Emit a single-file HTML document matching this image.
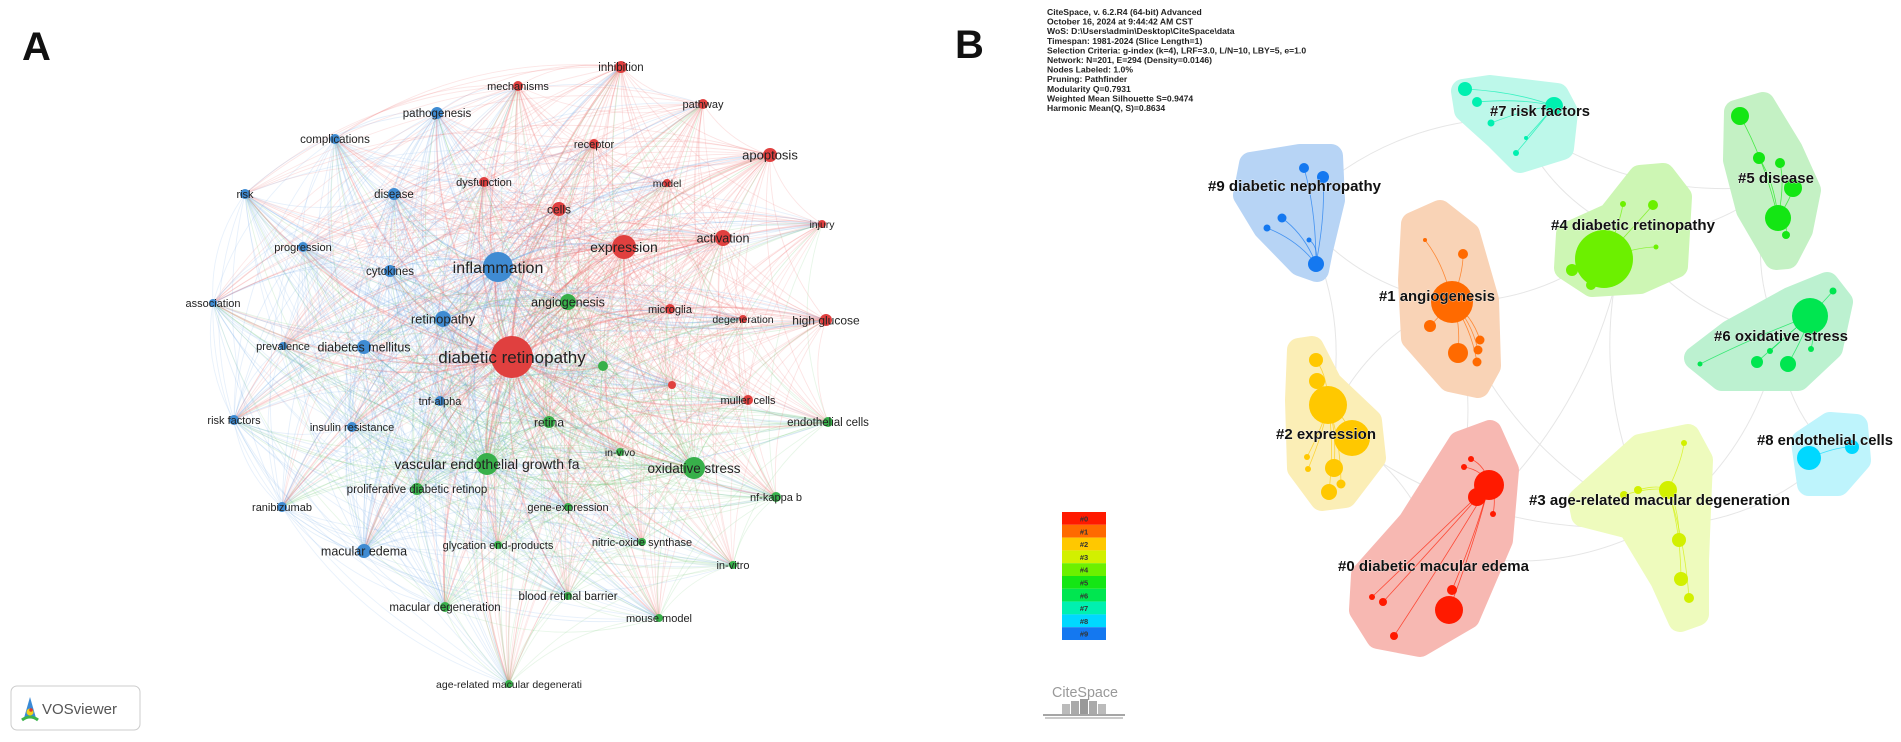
<!DOCTYPE html>
<html><head><meta charset="utf-8"><style>
html,body{margin:0;padding:0;background:#fff;}
svg{display:block;font-family:"Liberation Sans",sans-serif;}
</style></head><body>
<svg id="fig" width="1901" height="742" viewBox="0 0 1901 742" xmlns="http://www.w3.org/2000/svg">
<rect width="1901" height="742" fill="#fff"/>
<g id="panelA">
  <text x="22" y="60" font-size="40" font-weight="bold" fill="#111">A</text>
  <g id="edgesA"></g>
  <g id="nodesA"></g>
  <g id="labelsA"></g>
  <g>
    <rect x="11" y="686" width="129" height="44" rx="6" fill="#fff" stroke="#ccc" stroke-width="1"/>
    <path d="M24 718 L30 697 L36 718 Z" fill="#3a8ad6"/>
    <circle cx="30" cy="712" r="3.5" fill="#f2d21b"/><circle cx="31" cy="710" r="1.8" fill="#e23a2a"/>
    <path d="M22 720 Q30 714 38 720" fill="none" stroke="#3cb44b" stroke-width="3"/>
    <text x="42" y="714" font-size="15" fill="#555">VOSviewer</text>
  </g>
</g>
<g id="panelB">
  <text x="955" y="58" font-size="40" font-weight="bold" fill="#111">B</text>
  <g font-size="8.6" font-weight="bold" fill="#222">
    <text x="1047" y="15">CiteSpace, v. 6.2.R4 (64-bit) Advanced</text>
    <text x="1047" y="24.6">October 16, 2024 at 9:44:42 AM CST</text>
    <text x="1047" y="34.2">WoS: D:\Users\admin\Desktop\CiteSpace\data</text>
    <text x="1047" y="43.8">Timespan: 1981-2024 (Slice Length=1)</text>
    <text x="1047" y="53.4">Selection Criteria: g-index (k=4), LRF=3.0, L/N=10, LBY=5, e=1.0</text>
    <text x="1047" y="63">Network: N=201, E=294 (Density=0.0146)</text>
    <text x="1047" y="72.6">Nodes Labeled: 1.0%</text>
    <text x="1047" y="82.2">Pruning: Pathfinder</text>
    <text x="1047" y="91.8">Modularity Q=0.7931</text>
    <text x="1047" y="101.4">Weighted Mean Silhouette S=0.9474</text>
    <text x="1047" y="111">Harmonic Mean(Q, S)=0.8634</text>
  </g>
  <g id="bgEdgesB"></g>
  <g id="hullsB"></g>
  <g id="nodesB"></g>
  <g id="labelsB"></g>
  <g id="legendB"></g>
  <g>
    <text x="1052" y="697" font-size="15" fill="#999" textLength="66" lengthAdjust="spacingAndGlyphs">CiteSpace</text>
    <rect x="1062" y="704" width="8" height="10" fill="#bbb"/><rect x="1071" y="701" width="8" height="13" fill="#aaa"/>
    <rect x="1080" y="699" width="8" height="15" fill="#999"/><rect x="1089" y="701" width="8" height="13" fill="#aaa"/>
    <rect x="1098" y="704" width="8" height="10" fill="#bbb"/>
    <path d="M1043 715 L1125 715" stroke="#888" stroke-width="1.5" fill="none"/>
    <path d="M1045 718 L1123 718" stroke="#aaa" stroke-width="1.2" fill="none"/>
  </g>
</g>
</svg>
<script>
// ---------- Panel A data ----------
const aLabels = ["inhibition","mechanisms","pathway","pathogenesis","complications","receptor","apoptosis","dysfunction","model","risk","disease","cells","injury","activation","expression","progression","inflammation","cytokines","association","angiogenesis","microglia","degeneration","high glucose","retinopathy","prevalence","diabetes mellitus","diabetic retinopathy","","","tnf-alpha","muller cells","risk factors","insulin resistance","retina","endothelial cells","in-vivo","vascular endothelial growth fa","oxidative stress","proliferative diabetic retinop","nf-kappa b","ranibizumab","gene-expression","glycation end-products","nitric-oxide synthase","macular edema","in-vitro","blood retinal barrier","macular degeneration","mouse model","age-related macular degenerati"];
const aX = [621,518,703,437,335,594,770,484,667,245,394,559,822,723,624,303,498,390,213,568,670,743,826,443,283,364,512,603,672,440,748,234,352,549,828,620,487,694,417,776,282,568,498,642,364,733,568,445,659,509];
const aY = [67,86,104,113,139,144,155,182,183,194,194,209,224,238,247,247,267,271,303,302,309,319,320,319,346,347,357,366,385,401,400,420,427,422,422,452,464,468,489,497,507,507,545,542,551,565,596,607,618,684];
const aSize = [6,5,5,6,5,5,7,5,4,5,6,7,4,8,12,5,15,6,4,8,5,4,6,8,4,7,21,5,4,5,5,5,5,6,5,4,11,11,6,5,5,4,4,4,7,4,4,5,4,4];
const aCluster = ["r","r","r","b","b","r","r","r","r","b","b","r","r","r","r","b","b","b","b","g","r","r","r","b","b","b","r","g","r","b","r","b","b","g","g","g","g","g","g","g","b","g","g","g","b","g","g","g","g","g"];
const aFont = [11.5,11,11,11.5,11.5,11,13,11,10.5,11,11.5,12,10.5,12.5,14,11,16,11.5,11,12.5,11,10.5,12,13,11,12.5,17,0,0,11,11,11,11,12,11.5,10.5,14,13.5,11.5,11,11,11,11,11,12.5,11,11.5,11.5,11,10.5];

const colNode = {r:"#e0403f", b:"#3f8bd2", g:"#38b04a"};
const colEdge = {r:"#ef6f6f", b:"#6fa8e6", g:"#6cc56f"};
const NS="http://www.w3.org/2000/svg";
function mk(tag, attrs, parent){const e=document.createElementNS(NS,tag);for(const k in attrs)e.setAttribute(k,attrs[k]);parent.appendChild(e);return e;}

const eA=document.getElementById('edgesA');
for(let i=0;i<aX.length;i++){for(let j=i+1;j<aX.length;j++){
  const wi=aSize[i], wj=aSize[j];
  if((i*7+j*3)%5===0 && wi<8 && wj<8) continue;
  const x1=aX[i],y1=aY[i],x2=aX[j],y2=aY[j];
  const dx=x2-x1,dy=y2-y1;
  const mx=(x1+x2)/2 - dy*0.18, my=(y1+y2)/2 + dx*0.18;
  const src = wi>=wj?i:j;
  const op = Math.min(0.45, 0.08 + (wi+wj)*0.009);
  const p=mk('path',{d:`M${x1} ${y1} Q${mx} ${my} ${x2} ${y2}`,fill:'none',stroke:colEdge[aCluster[src]],'stroke-width':(wi+wj)>20?1.4:0.9,'stroke-opacity':op},eA);
  
  
}}
const nA=document.getElementById('nodesA'), lA=document.getElementById('labelsA');
for(let i=0;i<aX.length;i++){
  const c=mk('circle',{cx:aX[i],cy:aY[i],r:aSize[i],fill:colNode[aCluster[i]]},nA);
  
  
  if(aLabels[i]){
    const t=mk('text',{x:aX[i],y:aY[i]+aFont[i]*0.36,'font-size':aFont[i],'text-anchor':'middle',fill:'#222'},lA);
    t.textContent=aLabels[i];
    
    
  }
}

// ---------- Panel B data ----------
const bClusterNames = ["#0 diabetic macular edema","#1 angiogenesis","#2 expression","#3 age-related macular degeneration","#4 diabetic retinopathy","#5 disease","#6 oxidative stress","#7 risk factors","#8 endothelial cells","#9 diabetic nephropathy"];
const bColors = ["#ff1a00","#ff6a00","#ffc800","#d2f000","#6cf000","#14e614","#00e650","#00f0b0","#00d8ff","#1478f0"];
const bHullColors = ["#f7b8b2","#f9d3b6","#fbeeb6","#eefbbd","#cdf6b4","#c4f1c4","#bcf1d0","#bdf8ea","#bef4fc","#b7d4f5"];
const bLabelX = [1338,1379,1276,1529,1551,1738,1714,1490,1757,1208];
const bLabelY = [571,301,439,505,230,183,341,116,445,191];
const bLabelW = [191,116,100,261,164,76,134,100,136,173];
const bNodeX = [[1489,1477,1449,1452,1471,1383,1394,1493,1372,1464],[1452,1463,1430,1458,1480,1478,1477,1425],[1316,1317,1328,1352,1334,1329,1307,1308,1341],[1668,1679,1681,1689,1684,1638,1624],[1604,1653,1572,1591,1623,1656],[1740,1759,1780,1793,1778,1786],[1810,1788,1757,1770,1811,1833,1700],[1465,1477,1554,1491,1516,1526],[1809,1852],[1304,1323,1282,1267,1316,1309]];
const bNodeY = [[485,497,610,590,459,602,636,514,597,467],[302,254,326,353,340,350,362,240],[360,381,405,438,468,492,457,469,484],[490,540,579,598,443,490,495],[259,205,270,285,204,247],[116,158,163,188,218,235],[316,364,362,351,349,291,364],[89,102,106,123,153,138],[458,447],[168,177,218,228,264,240]];
const bNodeR = [[15,9,14,5,3,4,4,3,3,3],[21,5,6,10,4.5,4.5,4.5,2],[7,8,19,18,9,8,3,3,4.5],[9,7,7,5,3,4,4],[29,5,6,5,3,2.5],[9,6,5,9,13,4],[18,8,6,3,3,3.5,2.5],[7,5,9,3.5,3,2],[12,7],[5,6,4.5,3.5,8,2.5]];
const bHulls = [
 [[1363,575],[1410,522],[1460,443],[1490,432],[1507,470],[1501,540],[1468,617],[1420,645],[1378,637],[1361,610]],
 [[1413,224],[1440,212],[1468,234],[1487,300],[1489,366],[1478,386],[1450,380],[1413,338],[1410,280]],
 [[1299,350],[1312,348],[1330,383],[1370,421],[1374,458],[1345,496],[1322,499],[1299,468],[1297,400]],
 [[1580,500],[1640,446],[1688,436],[1701,460],[1697,560],[1697,614],[1680,620],[1662,580],[1630,527],[1583,515]],
 [[1568,234],[1610,215],[1640,177],[1663,175],[1680,197],[1676,266],[1640,282],[1592,285],[1566,268]],
 [[1736,112],[1763,104],[1791,150],[1809,190],[1801,230],[1787,257],[1776,258],[1748,210],[1735,160]],
 [[1696,358],[1730,332],[1790,299],[1827,284],[1841,302],[1831,348],[1798,379],[1722,379]],
 [[1463,91],[1490,87],[1557,95],[1566,112],[1562,148],[1520,161],[1497,138],[1466,110]],
 [[1803,442],[1830,424],[1856,426],[1859,460],[1838,484],[1809,484]],
 [[1251,164],[1300,156],[1331,156],[1333,200],[1321,250],[1317,270],[1300,264],[1265,228],[1245,195]]
];
const bLinks = [[0,1],[0,2],[0,3],[1,4],[1,2],[4,5],[4,6],[3,6],[3,8],[7,9],[7,4],[7,5],[9,1],[2,9],[5,6],[0,4],[1,3],[6,8],[2,3],[4,3]];

const bgE=document.getElementById('bgEdgesB');
const cen=bHulls.map(h=>[h.reduce((s,p)=>s+p[0],0)/h.length,h.reduce((s,p)=>s+p[1],0)/h.length]);
bLinks.forEach(([a,b])=>{
  const [x1,y1]=cen[a],[x2,y2]=cen[b];const dx=x2-x1,dy=y2-y1;
  const p=mk('path',{d:`M${x1} ${y1} Q${(x1+x2)/2-dy*0.2} ${(y1+y2)/2+dx*0.2} ${x2} ${y2}`,fill:'none',stroke:'#e6e6e6','stroke-width':1},bgE);
  
  
});
const hB=document.getElementById('hullsB'), nB=document.getElementById('nodesB'), lB=document.getElementById('labelsB');
bHulls.forEach((h,k)=>{
  const d='M'+h.map(p=>p.join(' ')).join(' L')+' Z';
  const p=mk('path',{d:d,fill:bHullColors[k],stroke:bHullColors[k],'stroke-width':24,'stroke-linejoin':'round'},hB);
  
  
});
bNodeX.forEach((xs,k)=>{
  const big=bNodeR[k].indexOf(Math.max(...bNodeR[k]));
  xs.forEach((x,i)=>{
    if(i!==big){const y=bNodeY[k][i];const bx=xs[big],by=bNodeY[k][big];
      const l=mk('path',{d:`M${bx} ${by} Q${(bx+x)/2+6} ${(by+y)/2-6} ${x} ${y}`,fill:'none',stroke:bColors[k],'stroke-width':0.8,'stroke-opacity':0.7},nB);
      
      }
  });
  xs.forEach((x,i)=>{
    const c=mk('circle',{cx:x,cy:bNodeY[k][i],r:bNodeR[k][i],fill:bColors[k]},nB);
    
    
  });
});
bClusterNames.forEach((n,k)=>{
  const t=mk('text',{x:bLabelX[k],y:bLabelY[k],'font-size':15,'font-weight':'bold',fill:'#111',textLength:bLabelW[k],lengthAdjust:'spacingAndGlyphs',stroke:'#fff','stroke-width':0.6,'paint-order':'stroke'},lB);
  t.textContent=n;
  
  
});
const lg=document.getElementById('legendB');
bColors.forEach((c,k)=>{
  const r=mk('rect',{x:1062,y:512+k*12.8,width:44,height:12.8,fill:c},lg);
  
  
  const t=mk('text',{x:1084,y:512+k*12.8+9.5,'font-size':7.5,'font-weight':'bold','text-anchor':'middle',fill:'#333'},lg);
  t.textContent='#'+k;
  
  
});
</script>
</body></html>
